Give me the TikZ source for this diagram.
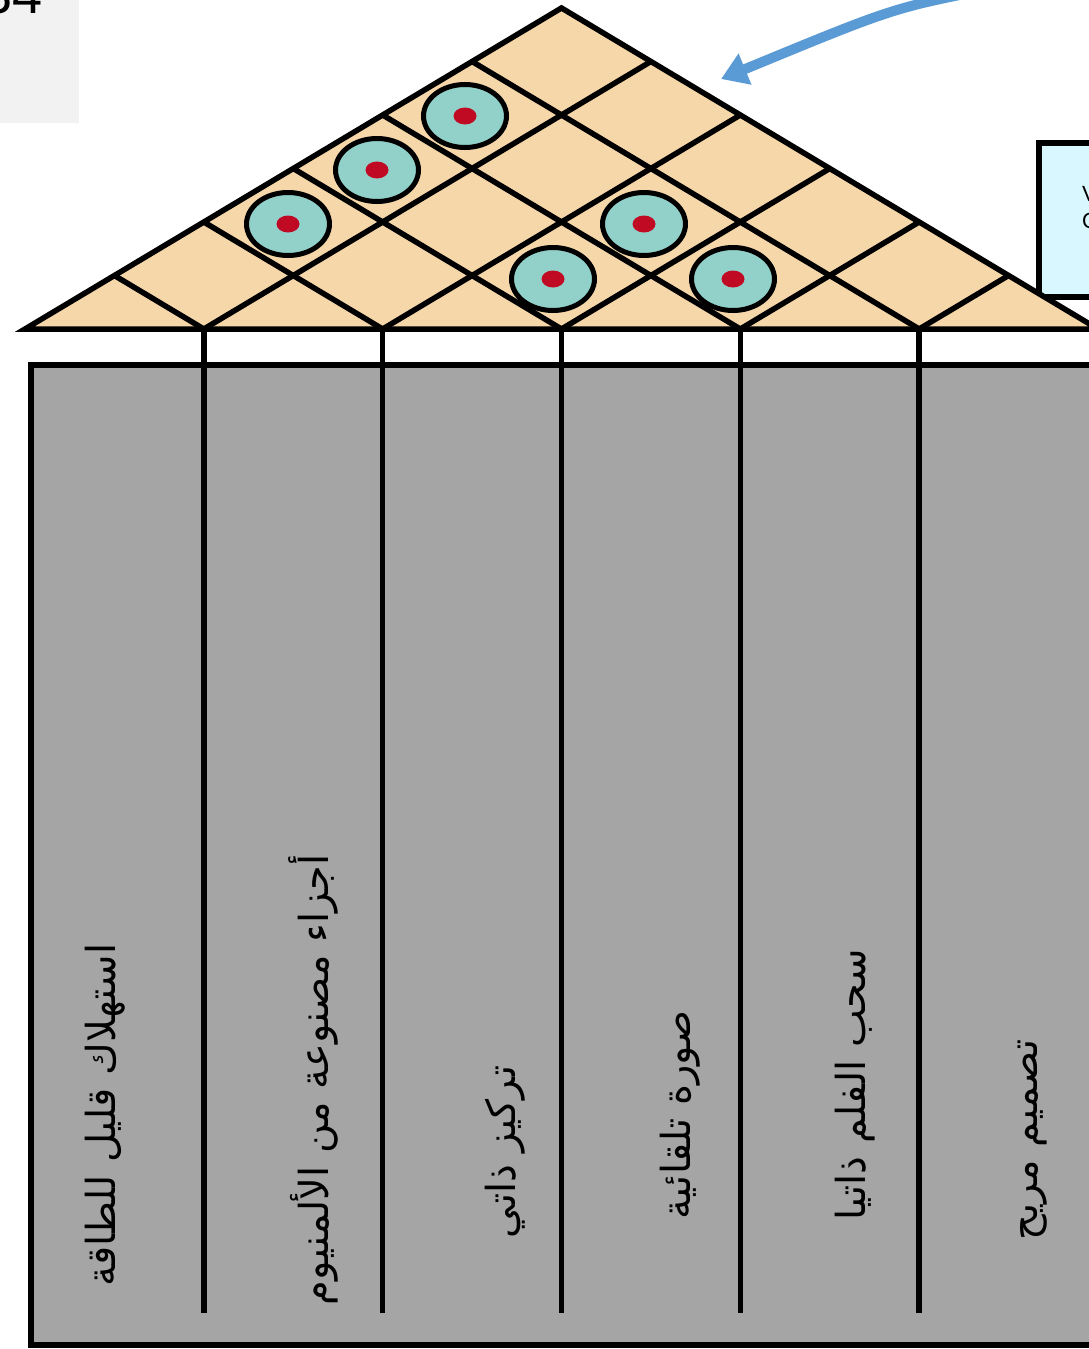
\documentclass[tikz,border=0pt]{standalone}
\usepackage{fontspec}
\setmainfont{Liberation Sans}
\newfontfamily\arabicfont[Script=Arabic]{DejaVu Sans}
\TeXXeTstate=1
\usetikzlibrary{calc,arrows.meta}
\definecolor{roof}{RGB}{246,215,170}
\definecolor{body}{RGB}{165,165,165}
\definecolor{ring}{RGB}{146,208,202}
\definecolor{dotred}{RGB}{192,10,35}
\definecolor{boxcyan}{RGB}{217,247,254}
\definecolor{boxgray}{RGB}{242,242,242}
\definecolor{arrowblue}{RGB}{91,155,213}
\tikzset{
  thick line/.style={line width=5.5pt, draw=black},
  ringmark/.style={line width=5pt, draw=black, fill=ring},
  reddot/.style={fill=dotred, draw=none},
  lab/.style={rotate=90, inner sep=0pt, font=\arabicfont\fontsize{40}{46}\selectfont},
  bluearrow/.style={draw=arrowblue, line width=10pt, -{Triangle[length=26pt,width=32pt]}},
}
\begin{document}
\begin{tikzpicture}[x=1pt,y=-1pt]
\useasboundingbox (0,0) rectangle (1089,1349);
\clip (0,0) rectangle (1089,1349);
% top-left fragment box
\fill[boxgray] (0,0) rectangle (79,123);
\node[anchor=base west, inner sep=0pt, font=\fontsize{54}{60}\selectfont] (frag) at (-18,13) {34};
% right cyan box
\draw[thick line, fill=boxcyan] (1039,143) rectangle (1130,297);
\node[anchor=north west, inner sep=0pt, align=left, font=\fontsize{22}{27}\selectfont] (rtext) at (1082,186) {V\\O};
% body
\draw[thick line, fill=body] (31,365) rectangle (1130,1345);
% roof points
\foreach \i in {0,...,6} {\coordinate (P\i) at ({25+178.83*\i},329);}
\coordinate (A) at (561.5,8);
\foreach \i in {1,...,5} {\draw[thick line] (P\i) -- ($(P\i)+(0,984)$);}
% roof
\draw[thick line, fill=roof, line join=miter] (P0) -- (A) -- (P6) -- cycle;
\foreach \i in {1,...,5} {
  \draw[thick line] (P\i) -- ($(A)!\i/6!(P6)$);
  \draw[thick line] (P\i) -- ($(P0)!\i/6!(A)$);
}
% correlation marks
\foreach \cx/\cy in {465/116, 377/170, 288/224, 644/224, 553/279, 733/279} {
  \draw[ringmark] (\cx,\cy) ellipse [x radius=41.5, y radius=31.5];
  \fill[reddot] (\cx,\cy) ellipse [x radius=11.5, y radius=8.5];
}
% arrow
\coordinate (as) at (990,-11);
\coordinate (ae) at (721,79);
\draw[bluearrow] (as) .. controls (893,8) .. (ae);
% labels
\node[lab] (l1) at (105,1115) {\beginR استهلاك قليل للطاقة\endR};
\node[lab] (l2) at (313,1080) {\beginR أجزاء مصنوعة من الألمنيوم\endR};
\node[lab] (l3) at (505,1152) {\beginR تركيز ذاتي\endR};
\node[lab] (l4) at (680,1115) {\beginR صورة تلقائية\endR};
\node[lab] (l5) at (855,1085) {\beginR سحب الفلم ذاتيا\endR};
\node[lab] (l6) at (1033,1140) {\beginR تصميم مريح\endR};
\end{tikzpicture}
\end{document}
